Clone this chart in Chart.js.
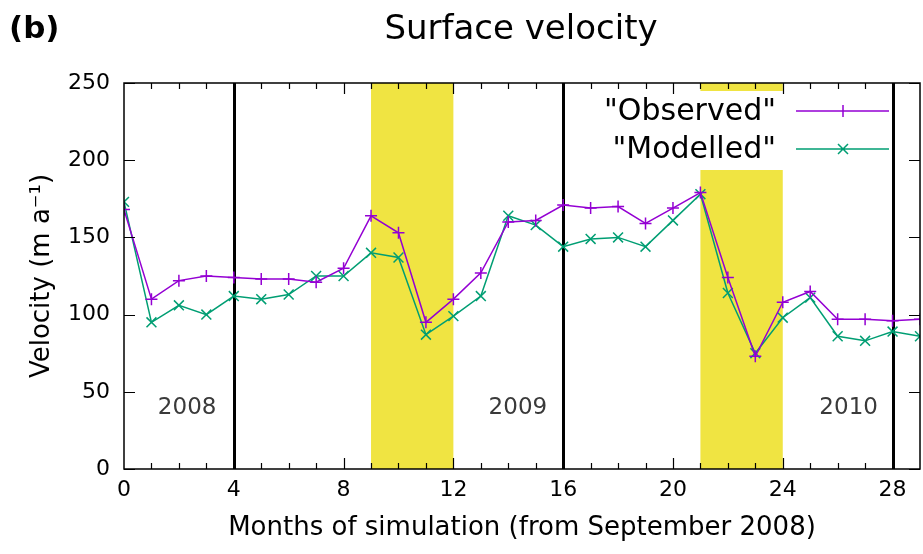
<!DOCTYPE html>
<html>
<head>
<meta charset="utf-8">
<script src="https://cdn.jsdelivr.net/npm/chart.js@4/dist/chart.umd.min.js"></script>
<style>
  body { margin: 0; background: #fff; }
  #wrap { width: 923px; height: 554px; }
</style>
</head>
<body>
<div id="wrap"><canvas id="chart" width="923" height="554"></canvas></div>
<script>
// months since September 2008
const months = [0, 1, 2, 3, 4, 5, 6, 7, 8, 9, 10, 11, 12, 13, 14, 15, 16, 17, 18, 19, 20, 21, 22, 23, 24, 25, 26, 27, 28, 29];
const observed = [168, 110, 122, 125, 124, 123, 123, 121, 130, 164, 153, 95, 110, 127, 160, 161, 171, 169, 170, 159, 169, 179, 124, 73, 108, 115, 97, 97, 96, 97];
const modelled = [173, 95, 106, 100, 112, 110, 113, 125, 125, 140, 137, 87, 99, 112, 164, 158, 144, 149, 150, 144, 161, 178, 114, 75, 98, 111, 86, 83, 89, 86];

// shaded periods (month ranges) and January boundaries
const shadedPeriods = [[9, 12], [21, 24]];
const yearBoundaries = [4, 16, 28];
const yearLabels = ["2008", "2009", "2010"];
const yearLabelMonths = [2.3, 14.35, 26.4];

const xTicks = [0, 4, 8, 12, 16, 20, 24, 28];
const yTicks = [0, 50, 100, 150, 200, 250];

const FONT = "'DejaVu Sans', sans-serif";
const PURPLE = "#9400d3";
const GREEN = "#009e73";
const YELLOW = "#f0e442";

function toPoints(values) {
  return months.map((m, i) => ({ x: m, y: values[i] }));
}

// legend box position (pixels) — it sits inside the plot, top right
const legendBox = { left: 585, right: 905, top: 91, bottom: 170 };

const backdrop = {
  id: "backdrop",
  beforeDatasetsDraw(chart) {
    const { ctx, chartArea: a, scales: { x, y } } = chart;
    ctx.save();
    ctx.fillStyle = YELLOW;
    for (const [s, e] of shadedPeriods) {
      ctx.fillRect(x.getPixelForValue(s), a.top, x.getPixelForValue(e) - x.getPixelForValue(s), a.bottom - a.top);
    }
    // the key has an opaque white background
    ctx.fillStyle = "#fff";
    ctx.fillRect(legendBox.left, legendBox.top, legendBox.right - legendBox.left, legendBox.bottom - legendBox.top);

    ctx.strokeStyle = "#000";
    ctx.lineWidth = 3;
    for (const m of yearBoundaries) {
      const px = Math.round(x.getPixelForValue(m)) + 0.5;
      ctx.beginPath();
      ctx.moveTo(px, a.top);
      ctx.lineTo(px, a.bottom);
      ctx.stroke();
    }

    ctx.fillStyle = "#3a3a3a";
    ctx.font = "23px " + FONT;
    ctx.textAlign = "center";
    ctx.textBaseline = "middle";
    yearLabels.forEach((t, i) => {
      ctx.fillText(t, x.getPixelForValue(yearLabelMonths[i]), y.getPixelForValue(39.5));
    });
    ctx.restore();
  },
  afterDraw(chart) {
    const { ctx, chartArea: a, scales: { x, y } } = chart;
    ctx.save();
    // frame
    ctx.strokeStyle = "#000";
    ctx.lineWidth = 1.5;
    ctx.strokeRect(a.left, a.top, a.right - a.left, a.bottom - a.top);

    // inward tick marks
    ctx.lineWidth = 1.2;
    ctx.beginPath();
    for (let m = 1; m < 29; m++) {
      const px = Math.round(x.getPixelForValue(m)) + 0.5;
      const len = m % 4 === 0 ? 11 : 6;
      ctx.moveTo(px, a.bottom); ctx.lineTo(px, a.bottom - len);
      ctx.moveTo(px, a.top); ctx.lineTo(px, a.top + len);
    }
    for (const v of yTicks) {
      const py = Math.round(y.getPixelForValue(v)) + 0.5;
      ctx.moveTo(a.left, py); ctx.lineTo(a.left + 11, py);
      ctx.moveTo(a.right, py); ctx.lineTo(a.right - 11, py);
    }
    ctx.stroke();

    // title and panel letter
    ctx.fillStyle = "#000";
    ctx.textBaseline = "middle";
    ctx.textAlign = "center";
    ctx.font = "34px " + FONT;
    ctx.fillText("Surface velocity", 521, 30);
    ctx.textAlign = "left";
    ctx.font = "bold 31px " + FONT;
    ctx.fillText("(b)", 9, 30);

    // key
    const rows = [
      { label: '"Observed"', color: PURPLE, style: "plus", y: 111 },
      { label: '"Modelled"', color: GREEN, style: "x", y: 149 }
    ];
    ctx.font = "30px " + FONT;
    ctx.textAlign = "right";
    for (const r of rows) {
      ctx.fillStyle = "#000";
      ctx.fillText(r.label, 776, r.y + 1);
      ctx.strokeStyle = r.color;
      ctx.lineWidth = 1.5;
      ctx.beginPath();
      ctx.moveTo(796, r.y); ctx.lineTo(889, r.y);
      const cx = 843;
      if (r.style === "plus") {
        ctx.moveTo(cx, r.y - 6); ctx.lineTo(cx, r.y + 6);
      } else {
        ctx.moveTo(cx - 5, r.y - 5); ctx.lineTo(cx + 5, r.y + 5);
        ctx.moveTo(cx - 5, r.y + 5); ctx.lineTo(cx + 5, r.y - 5);
      }
      ctx.stroke();
    }
    ctx.restore();
  }
};

new Chart(document.getElementById("chart"), {
  type: "line",
  data: {
    datasets: [
      {
        label: '"Observed"',
        data: toPoints(observed),
        borderColor: PURPLE,
        backgroundColor: PURPLE,
        borderWidth: 1.5,
        pointStyle: "cross",
        pointRadius: 6,
        pointBorderWidth: 1.5,
        tension: 0,
        fill: false
      },
      {
        label: '"Modelled"',
        data: toPoints(modelled),
        borderColor: GREEN,
        backgroundColor: GREEN,
        borderWidth: 1.5,
        pointStyle: "crossRot",
        pointRadius: 7,
        pointBorderWidth: 1.5,
        tension: 0,
        fill: false
      }
    ]
  },
  options: {
    responsive: false,
    animation: false,
    layout: { autoPadding: false, padding: { top: 83, right: 3, left: 0, bottom: 0 } },
    plugins: {
      legend: { display: false },
      tooltip: { enabled: false },
      title: { display: false }
    },
    scales: {
      x: {
        type: "linear",
        min: 0,
        max: 29,
        afterFit(scale) {
          scale.height = 85;
          scale.paddingLeft = 0;
          scale.paddingRight = 0;
        },
        afterBuildTicks(scale) { scale.ticks = xTicks.map(v => ({ value: v })); },
        grid: { display: false, drawTicks: false },
        border: { display: false },
        ticks: {
          color: "#000",
          padding: 8,
          maxRotation: 0,
          autoSkip: false,
          font: { family: FONT, size: 22 }
        },
        title: {
          display: true,
          text: "Months of simulation (from September 2008)",
          color: "#000",
          font: { family: FONT, size: 26 },
          padding: { top: 0, bottom: 10 }
        }
      },
      y: {
        min: 0,
        max: 250,
        afterFit(scale) { scale.width = 124; },
        afterBuildTicks(scale) { scale.ticks = yTicks.map(v => ({ value: v })); },
        grid: { display: false, drawTicks: false },
        border: { display: false },
        ticks: {
          color: "#000",
          padding: 14,
          font: { family: FONT, size: 22 }
        },
        title: {
          display: true,
          text: "Velocity (m a\u207B\u00B9)",
          color: "#000",
          font: { family: FONT, size: 26 },
          padding: { top: 27, bottom: 0 }
        }
      }
    }
  },
  plugins: [backdrop]
});
</script>
</body>
</html>
